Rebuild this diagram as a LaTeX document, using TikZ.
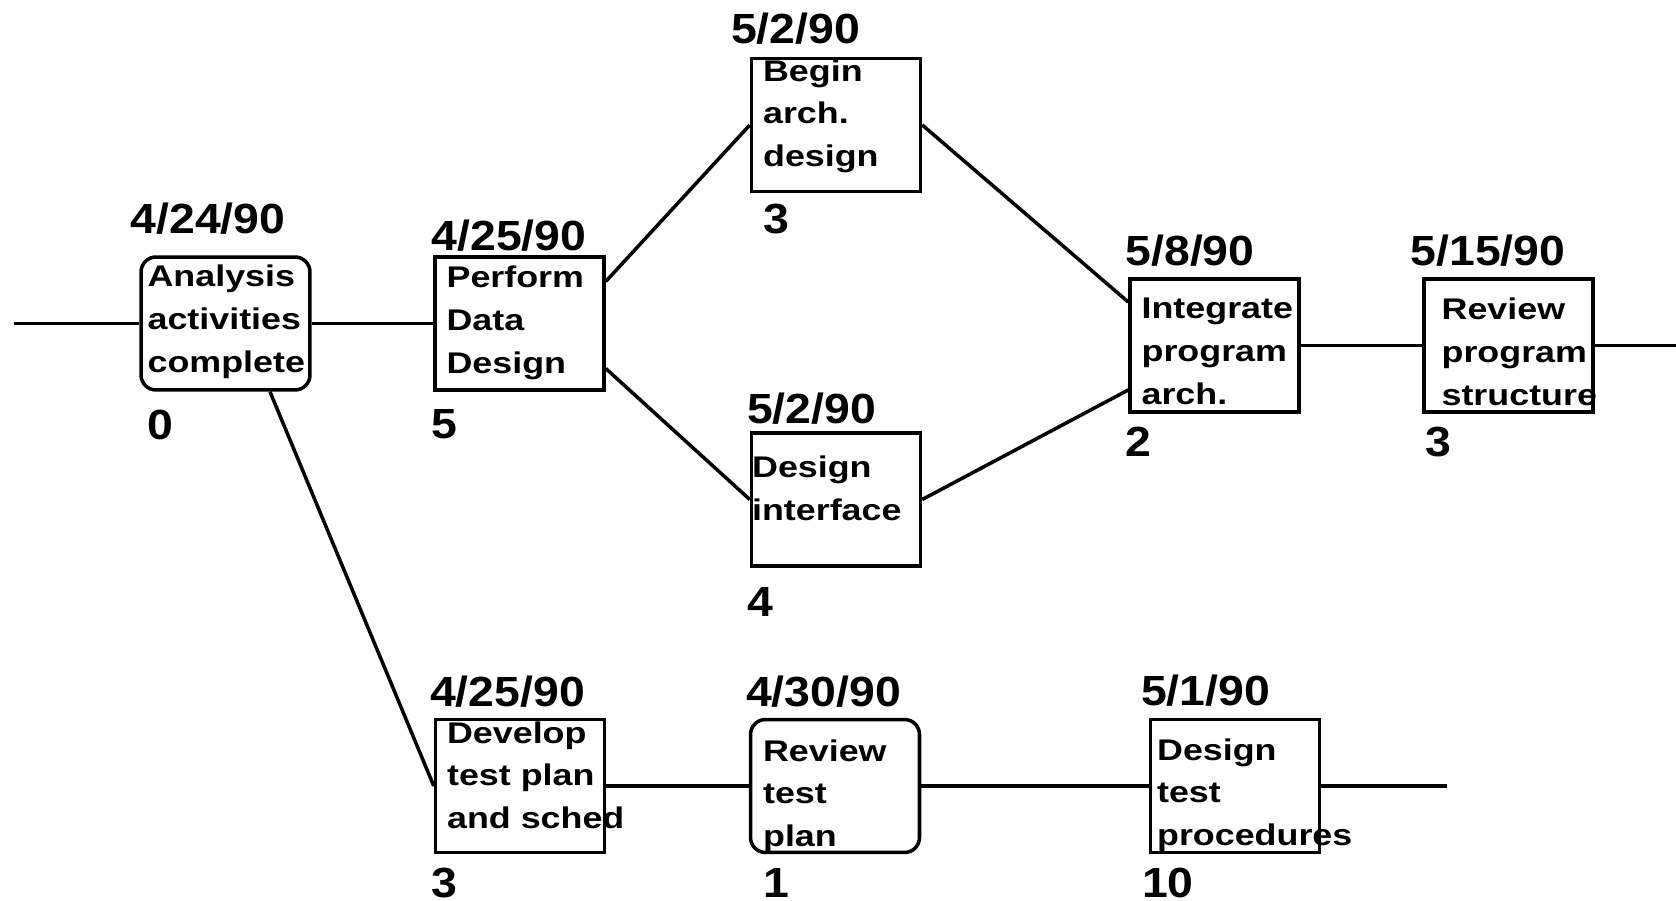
\documentclass[tikz,border=0pt]{standalone}
\usepackage{fontspec}
\newfontfamily\datefont[FakeStretch=1.1]{Liberation Sans}
\newfontfamily\taskfont[FakeStretch=1.2]{Liberation Sans}
\usetikzlibrary{positioning}
\tikzset{
    task/.style={draw, line width=2pt, minimum width=3.38cm, minimum height=2.66cm, inner sep=0pt},
    roundtask/.style={task, rounded corners=0.3cm},
    tasktext/.style={anchor=base west, align=left, inner sep=0pt, font=\taskfont\bfseries\fontsize{17}{24.4}\selectfont},
    datetext/.style={anchor=base west, inner sep=0pt, font=\datefont\bfseries\fontsize{24}{28}\selectfont},
    link/.style={line width=2pt}
}
\begin{document}
\begin{tikzpicture}[x=0.02cm, y=-0.02cm]
    \useasboundingbox (0,0) rectangle (1676,901);

        % Start of the network (text nodes sit on their last line)
        \node[roundtask] (anl) at (225.5,323.5) {};
        \node[tasktext] (anltxt) at ([shift={(8,117)}]anl.north west) {Analysis\\activities\\complete};
        \node[datetext] (anldate) at ([shift={(-9,-22)}]anl.north west) {4/24/90};
        \node[datetext] (anldur) at ([shift={(8,48)}]anl.south west) {0};

        \node[task] (pdd) at (519.5,323.5) {};
        \node[tasktext] (pddtxt) at ([shift={(13,118)}]pdd.north west) {Perform\\Data\\Design};
        \node[datetext] (pdddate) at ([shift={(-2,-5)}]pdd.north west) {4/25/90};
        \node[datetext] (pdddur) at ([shift={(-2,47)}]pdd.south west) {5};

        % Upper branch
        \node[task] (arch) at (836,125) {};
        \node[tasktext] (archtxt) at ([shift={(13,110)}]arch.north west) {Begin\\arch.\\design};
        \node[datetext] (archdate) at ([shift={(-19,-13)}]arch.north west) {5/2/90};
        \node[datetext] (archdur) at ([shift={(13,40)}]arch.south west) {3};

        \node[task] (intf) at (836,499.5) {};
        \node[tasktext] (intftxt) at ([shift={(2,89)}]intf.north west) {Design\\interface};
        \node[datetext] (intfdate) at ([shift={(-3,-8)}]intf.north west) {5/2/90};
        \node[datetext] (intfdur) at ([shift={(-3,49)}]intf.south west) {4};

        \node[task] (integ) at (1214.5,345.5) {};
        \node[tasktext] (integtxt) at ([shift={(13,127)}]integ.north west) {Integrate\\program\\arch.};
        \node[datetext] (integdate) at ([shift={(-3,-12)}]integ.north west) {5/8/90};
        \node[datetext] (integdur) at ([shift={(-3,43)}]integ.south west) {2};

        \node[task] (rps) at (1508.5,345.5) {};
        \node[tasktext] (rpstxt) at ([shift={(19,128)}]rps.north west) {Review\\program\\structure};
        \node[datetext] (rpsdate) at ([shift={(-12,-12)}]rps.north west) {5/15/90};
        \node[datetext] (rpsdur) at ([shift={(3,43)}]rps.south west) {3};

        % Lower branch
        \node[task] (dtp) at (520,786) {};
        \node[tasktext] (dtptxt) at ([shift={(13,111)}]dtp.north west) {Develop\\test plan\\and sched};
        \node[datetext] (dtpdate) at ([shift={(-4,-11)}]dtp.north west) {4/25/90};
        \node[datetext] (dtpdur) at ([shift={(-3,43)}]dtp.south west) {3};

        \node[roundtask] (rtp) at (835,786) {};
        \node[tasktext] (rtptxt) at ([shift={(14,129)}]rtp.north west) {Review\\test\\plan};
        \node[datetext] (rtpdate) at ([shift={(-3,-11)}]rtp.north west) {4/30/90};
        \node[datetext] (rtpdur) at ([shift={(14,43)}]rtp.south west) {1};

        \node[task] (dtproc) at (1235,786) {};
        \node[tasktext] (dtproctxt) at ([shift={(8,128)}]dtproc.north west) {Design\\test\\procedures};
        \node[datetext] (dtprocdate) at ([shift={(-8,-12)}]dtproc.north west) {5/1/90};
        \node[datetext] (dtprocdur) at ([shift={(-7,43)}]dtproc.south west) {10};

        % Free ends
        \coordinate (inend) at (14,323.5);
        \coordinate (outend) at (1676,345.5);
        \coordinate (testend) at (1447,786);

        % Links
        \draw[link] (inend) -- (anl.west);
        \draw[link] (anl.east) -- (pdd.west);
        \draw[link] ([yshift=0.84cm]pdd.east) -- (arch.west);
        \draw[link] ([yshift=-0.9cm]pdd.east) -- (intf.west);
        \draw[link] (arch.east) -- ([yshift=0.87cm]integ.west);
        \draw[link] (intf.east) -- ([yshift=-0.89cm]integ.west);
        \draw[link] (integ.east) -- (rps.west);
        \draw[link] (rps.east) -- (outend);
        \draw[link] ([xshift=0.89cm]anl.south) -- (dtp.west);
        \draw[link] (dtp.east) -- (rtp.west);
        \draw[link] (rtp.east) -- (dtproc.west);
        \draw[link] (dtproc.east) -- (testend);

    \end{tikzpicture}
\end{document}
